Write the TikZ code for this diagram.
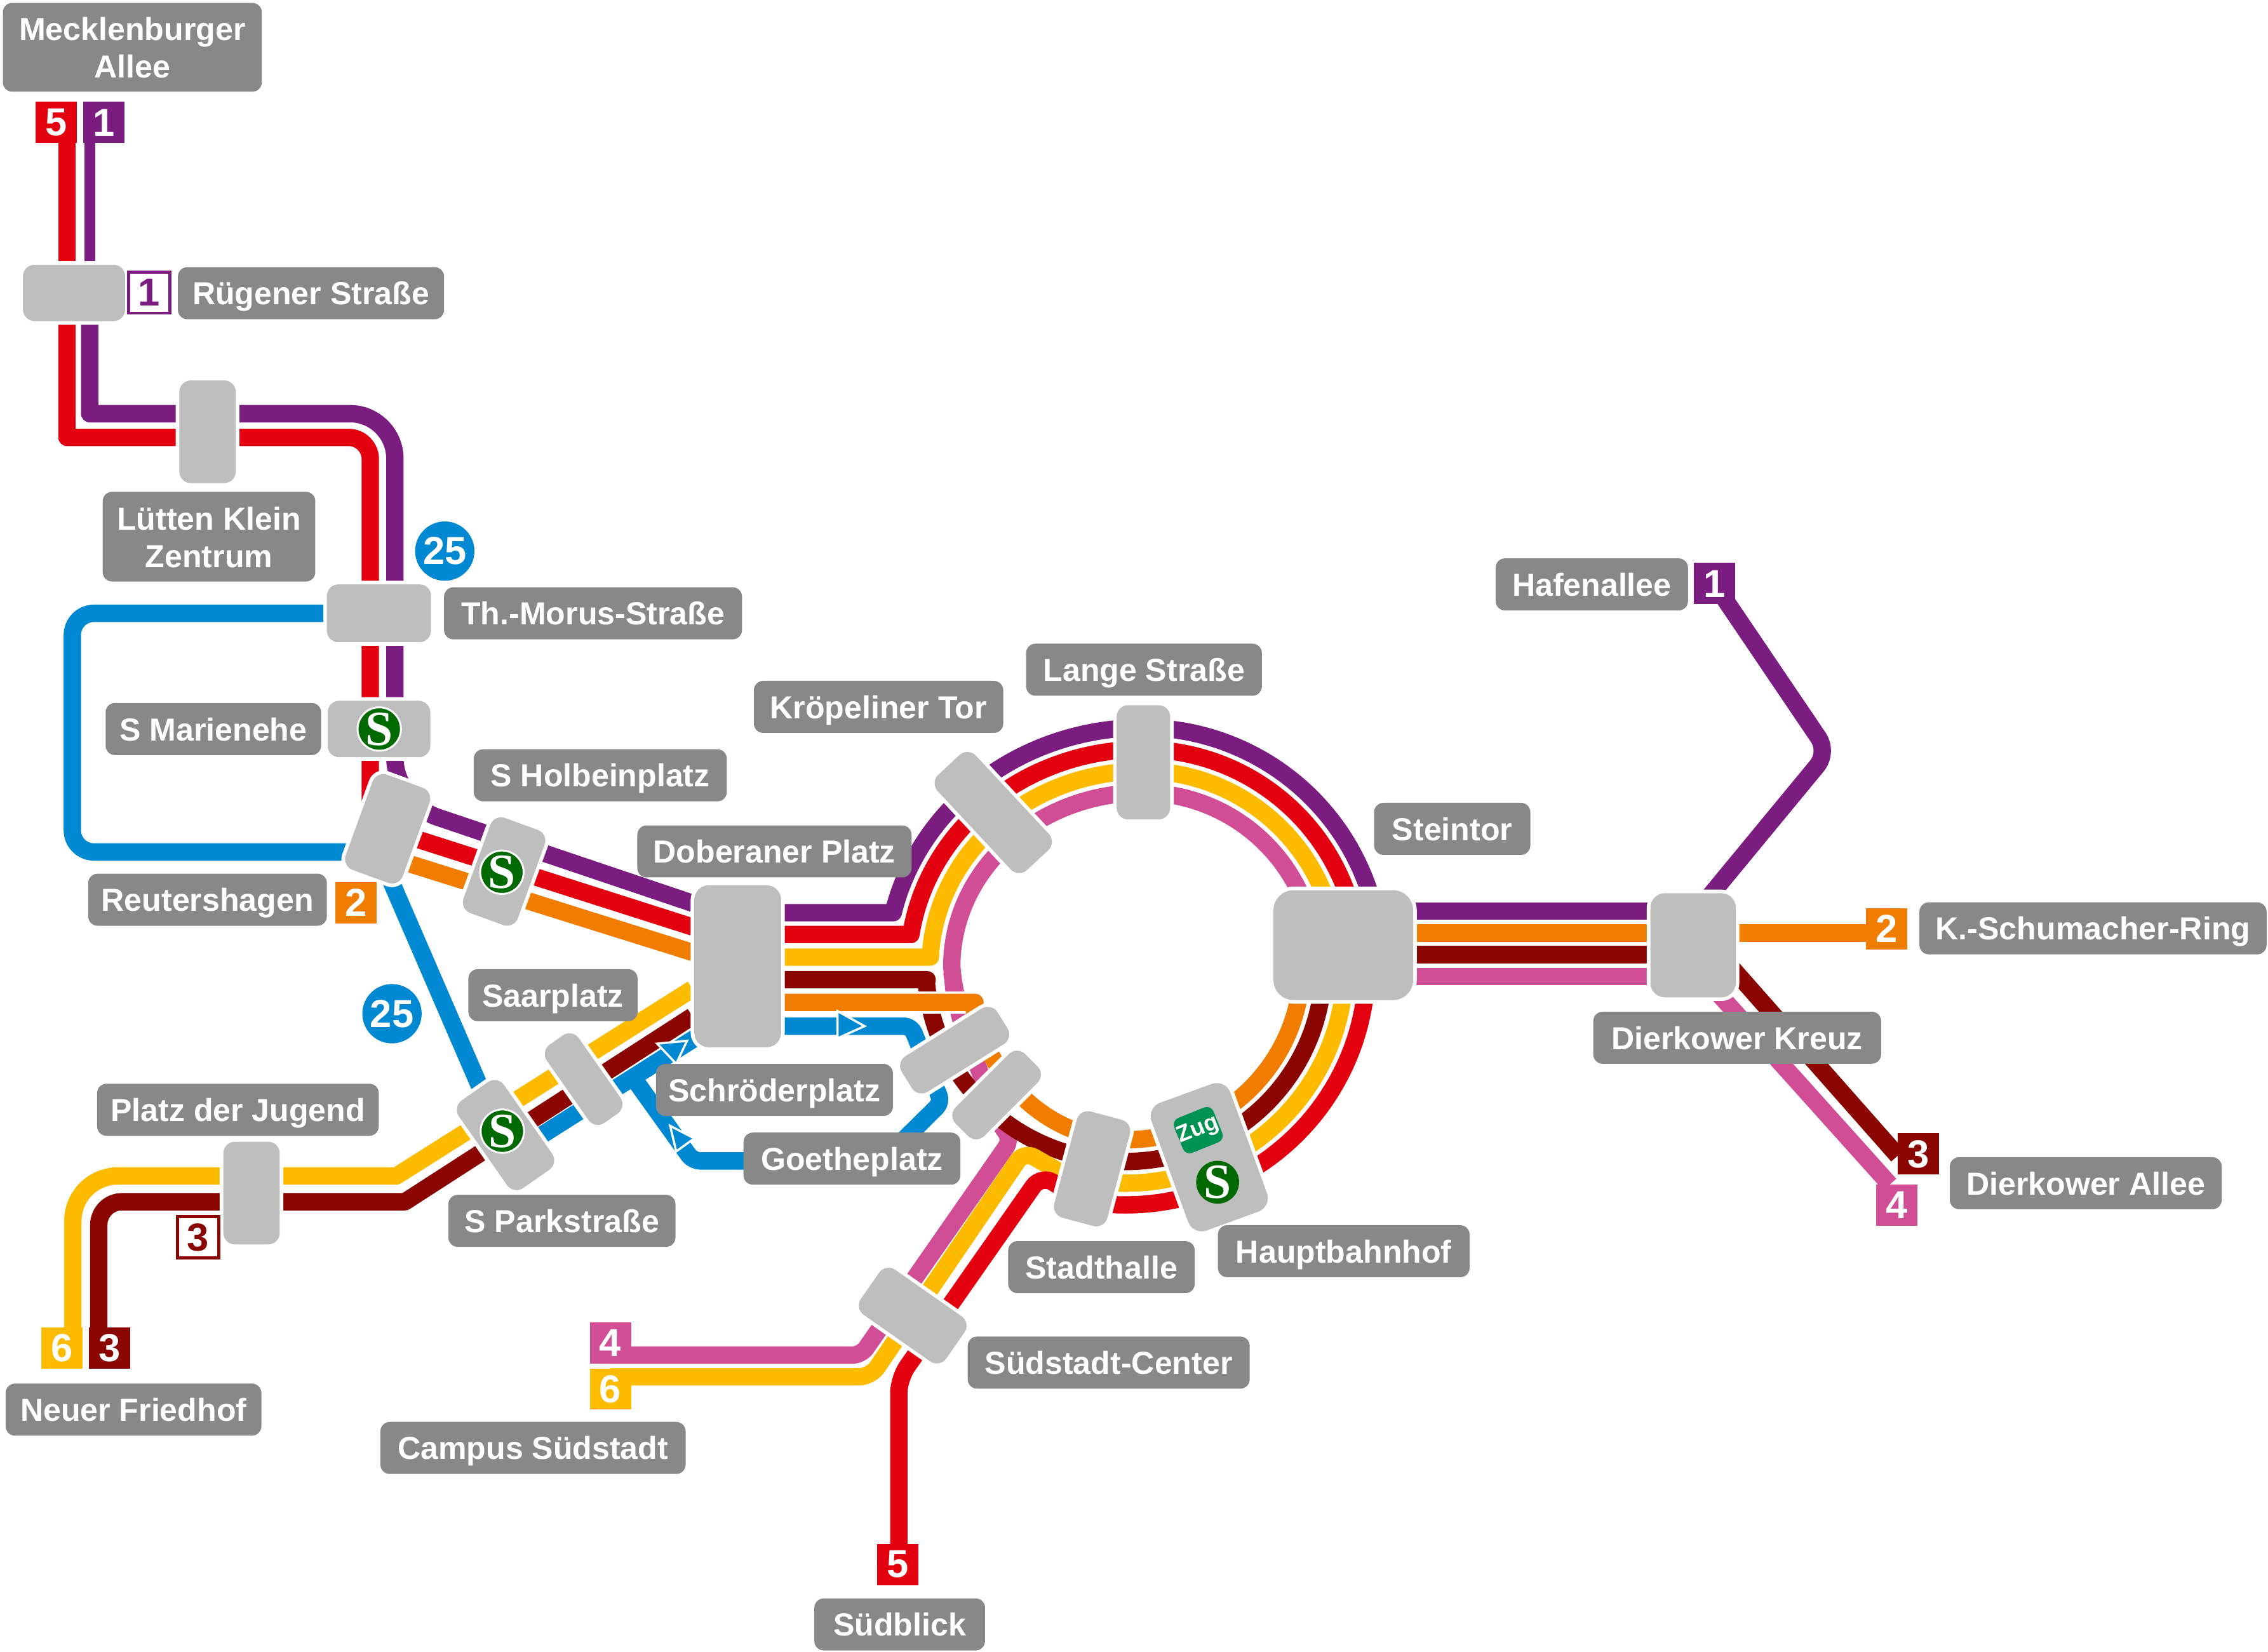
\documentclass[tikz,border=0pt]{standalone}
\usepackage{fontspec}
\setmainfont{Liberation Sans}
\newfontfamily\sfont{Liberation Serif}
\definecolor{cpu}{HTML}{7B1C80}
\definecolor{cre}{HTML}{E3000F}
\definecolor{cor}{HTML}{F07D00}
\definecolor{cye}{HTML}{FDBB00}
\definecolor{cma}{HTML}{8A0500}
\definecolor{cpi}{HTML}{D14E97}
\definecolor{cbl}{HTML}{0089D2}
\definecolor{cgr}{HTML}{006A00}
\definecolor{czu}{HTML}{009252}
\definecolor{clab}{HTML}{888888}
\definecolor{cst}{HTML}{BEBEBE}
\tikzset{
 ln/.style={line width=12pt,line join=round},
 arcs/.style={samples=50,variable=\t},
 stn/.style={fill=cst,rounded corners=8pt,inner sep=0pt,preaction={draw=white,line width=5pt}},
 lab/.style={fill=clab,rounded corners=6.5pt,inner sep=0pt,minimum height=36pt,text=white,align=center,text height=16pt,text depth=0pt,font=\fontsize{22}{26}\selectfont\bfseries},
 numb/.style={inner sep=0pt,minimum width=28.5pt,minimum height=28.5pt,text=white,font=\fontsize{27}{27}\selectfont\bfseries},
 onumb/.style={numb,fill=white,draw=#1,line width=2pt,text=#1},
 slogo/.style={circle,fill=cgr,draw=white,line width=1.3pt,minimum size=30pt,inner sep=0pt,text=white,font=\fontsize{34}{34}\sfont\bfseries},
 ring/.style={circle,fill=cbl,minimum size=41pt,inner sep=0pt,text=white,font=\fontsize{27}{27}\selectfont\bfseries},
 arw/.style={fill=cbl,draw=white,line width=1.5pt,line join=miter}
}
\begin{document}
\begin{tikzpicture}[x=1pt,y=-1pt]
\useasboundingbox (0,0) rectangle (1568,1142.06);
\fill[white] (0,0) rectangle (1568,1142.06);
% lines, blue first
\draw[ln,cbl,rounded corners=15pt] (262,424) -- (50,424) -- (50,589) -- (262,589);
\draw[ln,cbl] (262,590) -- (345,782);
\draw[ln,cbl] (360,794) -- (490,711.6);
\draw[ln,cbl,rounded corners=5pt] (520,709.4) -- (630,709.4) -- (651,762) -- (610,802.6) -- (479,802.6) -- (437,744);
% purple / red north-west
\draw[line width=7.4pt,cpu] (62.2,84) -- (62.2,190);
\draw[ln,cre] (46.3,84) -- (46.3,190);
\draw[ln,cpu] (62,200) -- (62,286) [rounded corners=31pt] -- (273,286) -- (273,555) [sharp corners] -- (479,624.5);
\draw[ln,cre] (46.3,200) -- (46.3,302.4) [rounded corners=15pt] -- (256,302.4) -- (256,569.8) [sharp corners] -- (479,640.9);
\draw[ln,cor] (270,593) -- (479,658.5);
% south-west
\draw[ln,cye,rounded corners=31pt] (50.4,932) -- (50.4,813) -- (240,813) [sharp corners] -- (274,813) -- (478.7,683.7);
\draw[ln,cma,rounded corners=16pt] (68.3,932) -- (68.3,830.8) -- (240,830.8) [sharp corners] -- (280,830.8) -- (478.7,702.6);
% ring
\draw[ln,cpi] (660,690) -- plot[arcs,domain=180:90] ({790+132*cos(\t)},{668-120*sin(\t)}) -- plot[arcs,domain=90:10] ({790+120*cos(\t)},{668-120*sin(\t)});
\draw[ln,cpi,rounded corners=6pt] (658,672) -- (664,705) -- (690,775) -- (699,788) -- (595.4,936.8) -- (422,936.8);
\draw[ln,cpu] (510,631) -- (617.5,631) -- plot[arcs,domain=167:90] ({790+177*cos(\t)},{668-165*sin(\t)}) -- plot[arcs,domain=90:10] ({790+165*cos(\t)},{668-165*sin(\t)});
\draw[ln,cre] (510,646) -- (629.7,646) -- plot[arcs,domain=171.6:90] ({790+162*cos(\t)},{668-150*sin(\t)}) -- plot[arcs,domain=90:10] ({790+150*cos(\t)},{668-150*sin(\t)});
\draw[ln,cye] (510,661.7) -- (643,661.7) -- plot[arcs,domain=177.3:90] ({790+147*cos(\t)},{668-135*sin(\t)}) -- plot[arcs,domain=90:10] ({790+135*cos(\t)},{668-135*sin(\t)});
\draw[ln,cma] (510,677.3) -- (641,677.3) -- plot[arcs,domain=184:270] ({778+138*cos(\t)},{668-135*sin(\t)}) -- plot[arcs,domain=270:360] ({778+137*cos(\t)},{668-135*sin(\t)});
\draw[line width=15.5pt,white] (545,693) -- (673,693);
\draw[ln,cor] (510,693) -- (674,693) -- plot[arcs,domain=195:270] ({778+108*cos(\t)},{668-120*sin(\t)}) -- plot[arcs,domain=270:360] ({778+122*cos(\t)},{668-120*sin(\t)});
\draw[ln,cye,rounded corners=8pt] (422,951.8) -- (602,951.8) -- (708,796) -- (750,820);
\draw[ln,cye] (750,816) -- plot[arcs,domain=260:360] ({778+152*cos(\t)},{668-150*sin(\t)});
\draw[ln,cre,rounded corners=10pt] (621.4,1081) -- (621.4,953) -- (720,812) -- (750,832);
\draw[ln,cre] (750,830.5) -- plot[arcs,domain=260:360] ({778+167*cos(\t)},{668-165*sin(\t)});
% east
\draw[ln,cpu] (930,630) -- (1160,630);
\draw[ln,cor] (930,645) -- (1304,645);
\draw[ln,cma] (930,660) -- (1160,660);
\draw[ln,cpi] (930,675) -- (1160,675);
\draw[ln,cpu,rounded corners=12pt] (1165,640) -- (1264,520) -- (1185.5,404);
\draw[ln,cpi] (1180,678) -- (1306.5,818.9);
\draw[ln,cma] (1180,649.5) -- (1312,799);
% arrows
\filldraw[arw] (579,699) -- (597.7,709.4) -- (579,717.8) -- cycle;
\filldraw[arw] (454.3,721.5) -- (475,719.5) -- (467.5,735.4) -- cycle;
\filldraw[arw] (463.3,778.3) -- (480,787) -- (467.5,796) -- cycle;
% stations
\node[stn,minimum width=70.6pt,minimum height=39pt] (rueg) at (51.2,202.5) {};
\node[stn,minimum width=39pt,minimum height=71pt] (lut) at (143.5,298.5) {};
\node[stn,minimum width=72pt,minimum height=40pt] (mor) at (262,424) {};
\node[stn,minimum width=71pt,minimum height=39pt] (mar) at (262,504) {};
\node[stn,minimum width=42pt,minimum height=70pt,rotate=-20] (reu) at (268,573) {};
\node[stn,minimum width=40pt,minimum height=70pt,rotate=-20] (hol) at (348.5,602.5) {};
\node[stn,rounded corners=10pt,minimum width=60pt,minimum height=112pt] (dobn) at (510,668) {};
\node[stn,minimum width=90pt,minimum height=36pt,rotate=-47] (kro) at (686.7,561.7) {};
\node[stn,minimum width=37pt,minimum height=79pt] (lan) at (790.5,527) {};
\node[stn,rounded corners=14pt,minimum width=96.6pt,minimum height=76pt] (ste) at (928.7,653.4) {};
\node[stn,rounded corners=10pt,minimum width=59pt,minimum height=72pt] (dier) at (1170.5,653.5) {};
\node[stn,minimum width=78pt,minimum height=29pt,rotate=32] (schr) at (660,726) {};
\node[stn,minimum width=68pt,minimum height=28pt,rotate=45] (goe) at (689,757) {};
\node[stn,minimum width=38pt,minimum height=76pt,rotate=-15] (sta) at (755,808) {};
\node[stn,rounded corners=10pt,minimum width=58pt,minimum height=94pt,rotate=20] (hbf) at (836,800) {};
\node[stn,minimum width=72pt,minimum height=38pt,rotate=-35] (sud) at (631,909.5) {};
\node[stn,minimum width=38pt,minimum height=74pt,rotate=35] (par) at (349.5,784.7) {};
\node[stn,minimum width=27pt,minimum height=66pt,rotate=35] (saa) at (403.5,746) {};
\node[stn,minimum width=39pt,minimum height=71pt] (jug) at (173.9,824.8) {};
% logos
\node[slogo] (s1) at (262.2,504) {S};
\node[slogo] (s2) at (347,603) {S};
\node[slogo] (s3) at (347.3,782) {S};
\node[slogo,draw=none,minimum size=28pt] (s4) at (841.8,817.3) {S};
\node[fill=czu,rounded corners=5pt,rotate=22,minimum width=27pt,minimum height=26pt,inner sep=0pt,text=white,font=\fontsize{16}{16}\selectfont\bfseries] (zug) at (828.4,781.3) {Zug};
% number boxes
\node[numb,fill=cre] (n5a) at (38.7,84.7) {5};
\node[numb,fill=cpu] (n1a) at (71.8,84.7) {1};
\node[onumb=cpu] (n1b) at (103.2,202.3) {1};
\node[numb,fill=cor] (n2a) at (246,624) {2};
\node[numb,fill=cye] (n6a) at (42.8,932) {6};
\node[numb,fill=cma] (n3a) at (75.7,932) {3};
\node[onumb=cma] (n3b) at (136.9,855.3) {3};
\node[numb,fill=cpi] (n4a) at (422,928.3) {4};
\node[numb,fill=cye] (n6b) at (422,960.3) {6};
\node[numb,fill=cre] (n5b) at (620.8,1081.5) {5};
\node[numb,fill=cpu] (n1c) at (1185.5,403.5) {1};
\node[numb,fill=cor] (n2b) at (1304.4,642) {2};
\node[numb,fill=cma] (n3c) at (1326.3,797.8) {3};
\node[numb,fill=cpi] (n4b) at (1311.4,833) {4};
\node[ring] (r1) at (307.5,381) {25};
\node[ring] (r2) at (271,700.8) {25};
% labels
\node[lab,text height=42.5pt,minimum width=179pt,minimum height=61.4pt] (lmeck) at (91.5,32.7) {Mecklenburger\\Allee};
\node[lab,minimum width=184pt] (lrueg) at (215,202.7) {Rügener Straße};
\node[lab,text height=42.5pt,minimum width=147pt,minimum height=62pt] (llut) at (144.5,371) {Lütten Klein\\Zentrum};
\node[lab,minimum width=206pt] (lmor) at (410,424) {Th.-Morus-Straße};
\node[lab,minimum width=149pt] (lmar) at (147.5,504) {S Marienehe};
\node[lab,minimum width=175pt] (lhol) at (415,536) {S Holbeinplatz};
\node[lab,minimum width=165pt] (lreu) at (143.5,622) {Reutershagen};
\node[lab,minimum width=189.6pt] (ldob) at (535.4,588.6) {Doberaner Platz};
\node[lab,minimum width=172.4pt] (lkro) at (607.4,488.7) {Kröpeliner Tor};
\node[lab,minimum width=163pt] (llan) at (790.9,463) {Lange Straße};
\node[lab,minimum width=108pt] (lste) at (1004,573) {Steintor};
\node[lab,minimum width=133pt] (lhaf) at (1100.5,404) {Hafenallee};
\node[lab,minimum width=240pt] (lksc) at (1447,641.8) {K.-Schumacher-Ring};
\node[lab,minimum width=199pt] (ldkr) at (1201,717.4) {Dierkower Kreuz};
\node[lab,minimum width=188pt] (ldal) at (1442,818) {Dierkower Allee};
\node[lab,minimum width=174pt] (lhbf) at (929,865) {Hauptbahnhof};
\node[lab,minimum width=129pt] (lsta) at (761.5,876) {Stadthalle};
\node[lab,minimum width=195pt] (lsud) at (766.5,942) {Südstadt-Center};
\node[lab,minimum width=118pt] (lsbl) at (622,1123) {Südblick};
\node[lab,minimum width=211pt] (lcam) at (368.5,1001) {Campus Südstadt};
\node[lab,minimum width=176.8pt] (lfri) at (92.3,974.5) {Neuer Friedhof};
\node[lab,minimum width=157pt] (lpar) at (388.5,844) {S Parkstraße};
\node[lab,minimum width=150pt] (lgoe) at (589,801) {Goetheplatz};
\node[lab,minimum width=163.8pt] (lsch) at (535.4,753.5) {Schröderplatz};
\node[lab,minimum width=117pt] (lsaa) at (382.3,688) {Saarplatz};
\node[lab,minimum width=194.7pt] (ljug) at (164.5,767.2) {Platz der Jugend};
\end{tikzpicture}
\end{document}
